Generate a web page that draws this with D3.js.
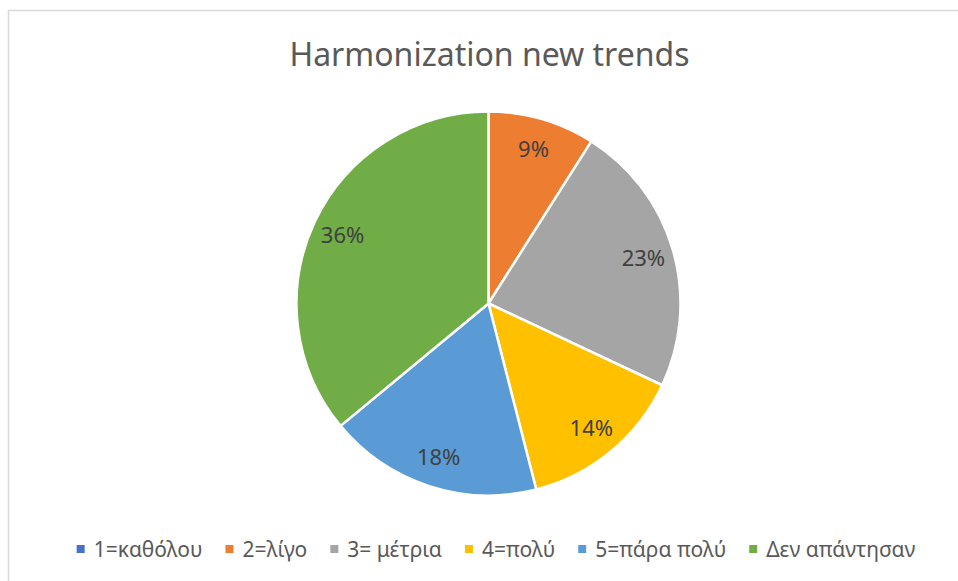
<!DOCTYPE html>
<html>
<head>
<meta charset="utf-8">
<script src="https://cdn.jsdelivr.net/npm/d3@7"></script>
<style>
  html, body { margin: 0; padding: 0; background: #fff; }
  svg { display: block; }
</style>
</head>
<body>
<svg id="chart" width="958" height="581"></svg>
<script>
const title = "Harmonization new trends";
const categories = ["1=καθόλου", "2=λίγο", "3= μέτρια", "4=πολύ", "5=πάρα πολύ", "Δεν απάντησαν"];
const values = [0, 9, 23, 14, 18, 36];
const colors = ["#4472C4", "#ED7D31", "#A5A5A5", "#FFC000", "#5B9BD5", "#70AD47"];

const W = 958, H = 581;
const svg = d3.select("#chart");

svg.append("rect")
  .attr("x", 8.5).attr("y", 10.5)
  .attr("width", W + 20).attr("height", H + 20)
  .attr("fill", "#fff")
  .attr("stroke", "#d9d9d9").attr("stroke-width", 1.5);

svg.append("text")
  .attr("x", 489.5).attr("y", 66)
  .attr("text-anchor", "middle")
  .attr("font-family", "'Noto Sans', 'Open Sans', sans-serif")
  .attr("font-size", 32)
  .attr("fill", "#595959")
  .text(title);

const cx = 488.5, cy = 303.5, r = 192;
const data = categories.map((c, i) => ({ cat: c, value: values[i], color: colors[i] }));
const pie = d3.pie().value(d => d.value).sort(null);
const arcs = pie(data);
const arc = d3.arc().innerRadius(0).outerRadius(r);
const labelArc = d3.arc().innerRadius(r * 0.84).outerRadius(r * 0.84);

const g = svg.append("g").attr("transform", `translate(${cx},${cy})`);
g.selectAll("path.slice")
  .data(arcs.filter(d => d.value > 0))
  .join("path")
  .attr("class", "slice")
  .attr("d", arc)
  .attr("fill", d => d.data.color)
  .attr("stroke", "#fff")
  .attr("stroke-width", 2.5)
  .attr("stroke-linejoin", "round");

g.selectAll("text.lbl")
  .data(arcs.filter(d => d.value > 0))
  .join("text")
  .attr("class", "lbl")
  .attr("transform", d => `translate(${labelArc.centroid(d)})`)
  .attr("text-anchor", "middle")
  .attr("dy", "0.36em")
  .attr("font-family", "'Noto Sans', 'Open Sans', sans-serif")
  .attr("font-size", 22)
  .attr("fill", "#404040")
  .text(d => d.data.value + "%");

// legend
const legendY = 549;
const ms = 8, gapMT = 9, gapItem = 23;
const lg = svg.append("g");
const items = lg.selectAll("g.item").data(data).join("g").attr("class", "item");
items.append("rect")
  .attr("width", ms).attr("height", ms)
  .attr("y", legendY - ms / 2)
  .attr("fill", d => d.color);
items.append("text")
  .attr("x", ms + gapMT)
  .attr("y", legendY)
  .attr("dy", "0.36em")
  .attr("font-family", "'Noto Sans', 'Open Sans', sans-serif")
  .attr("font-size", 21)
  .attr("fill", "#595959")
  .text(d => d.cat);

let widths = [];
items.each(function() {
  const t = d3.select(this).select("text").node().getComputedTextLength();
  widths.push(ms + gapMT + t);
});
const total = d3.sum(widths) + gapItem * (widths.length - 1);
let x0 = 496 - total / 2;
items.each(function(d, i) {
  d3.select(this).attr("transform", `translate(${x0},0)`);
  x0 += widths[i] + gapItem;
});
</script>
</body>
</html>
